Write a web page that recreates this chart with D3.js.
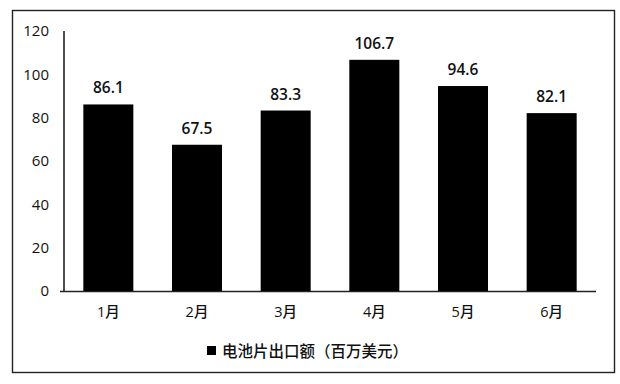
<!DOCTYPE html>
<html><head><meta charset="utf-8">
<script src="https://cdn.jsdelivr.net/npm/d3@7/dist/d3.min.js"></script>
<style>body{margin:0;background:#fff;} text{fill:#111;}</style>
</head><body><svg id="c" width="620" height="384"></svg>
<script>
const categories = ["1月","2月","3月","4月","5月","6月"];
const values = [86.1, 67.5, 83.3, 106.7, 94.6, 82.1];
const yTicks = [0,20,40,60,80,100,120];
const seriesName = "电池片出口额（百万美元）";

const svg = d3.select("#c");
const font = "'Open Sans','Noto Sans CJK SC',sans-serif";

svg.append("rect").attr("x",12.5).attr("y",10.5).attr("width",602).attr("height",362)
  .attr("fill","none").attr("stroke","#222").attr("stroke-width",1.4);

const x = d3.scaleBand().domain(categories).range([64,596]).paddingInner(0.436).paddingOuter(0.218);
const y = d3.scaleLinear().domain([0,120]).range([291,31]);

svg.append("line").attr("x1",64).attr("x2",64).attr("y1",y(120)).attr("y2",y(0))
  .attr("stroke","#222").attr("stroke-width",1.6);
svg.append("line").attr("x1",60).attr("x2",596).attr("y1",y(0)+0.5).attr("y2",y(0)+0.5)
  .attr("stroke","#222").attr("stroke-width",1.6);

const yAxis = d3.axisLeft(y).tickValues(yTicks).tickSize(0).tickPadding(15);
const gy = svg.append("g").attr("transform","translate(64,0)").call(yAxis);
gy.select(".domain").remove();
gy.selectAll("text").attr("font-family",font).attr("font-size",15).attr("font-weight",500).attr("fill","#111");

const xAxis = d3.axisBottom(x).tickSize(0).tickPadding(16);
const gx = svg.append("g").attr("transform",`translate(0,${y(0)})`).call(xAxis);
gx.select(".domain").remove();
gx.selectAll("text").attr("font-family",font).attr("font-size",14.5).attr("font-weight",500).attr("fill","#111");

svg.selectAll("rect.bar").data(values).join("rect").attr("class","bar")
  .attr("x",(d,i)=>x(categories[i])).attr("width",x.bandwidth())
  .attr("y",d=>y(d)).attr("height",d=>y(0)-y(d)).attr("fill","#000");

svg.selectAll("text.val").data(values).join("text").attr("class","val")
  .attr("x",(d,i)=>x(categories[i])+x.bandwidth()/2).attr("y",d=>y(d)-11)
  .attr("text-anchor","middle").attr("font-family",font).attr("font-size",15.5).attr("font-weight",600)
  .text(d=>d.toFixed(1));

svg.append("rect").attr("x",207).attr("y",346).attr("width",9).attr("height",9).attr("fill","#000");
svg.append("text").attr("x",222).attr("y",357).attr("font-family","'Noto Sans CJK SC',sans-serif")
  .attr("font-size",15.5).attr("font-weight",500).text(seriesName);
</script></body></html>
